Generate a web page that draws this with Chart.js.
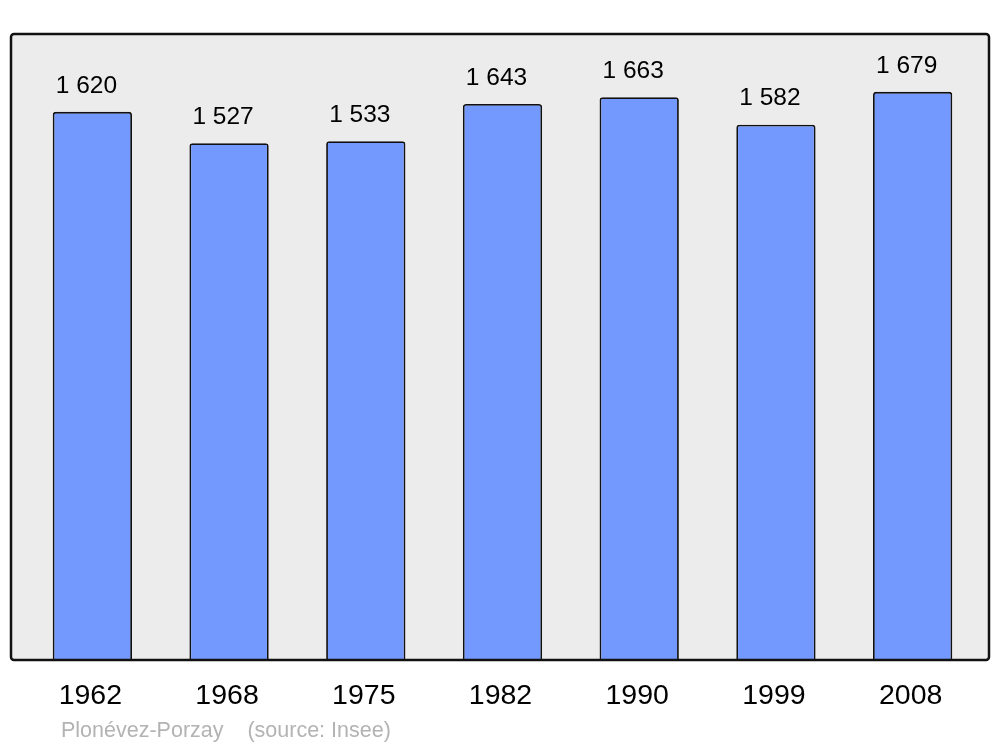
<!DOCTYPE html>
<html>
<head>
<meta charset="utf-8">
<script src="https://cdn.jsdelivr.net/npm/chart.js@4/dist/chart.umd.min.js"></script>
<style>
  html, body { margin: 0; padding: 0; background: #fff; }
  #wrap { width: 1000px; height: 747px; position: relative; }
</style>
</head>
<body>
<div id="wrap"><canvas id="popChart" width="1000" height="747"></canvas></div>
<script>
// Données : population de Plonévez-Porzay (Insee)
const years = ['1962', '1968', '1975', '1982', '1990', '1999', '2008'];
const population = [1620, 1527, 1533, 1643, 1663, 1582, 1679];
const yMax = 1850;
const footerText = 'Plonévez-Porzay    (source: Insee)';

const FONT = '"Liberation Sans", Arial, sans-serif';

// Fond gris et cadre noir autour de la zone du graphique
const framePlugin = {
    id: 'frame',
    beforeDatasetsDraw(chart) {
        const { ctx, chartArea } = chart;
        const x = chartArea.left - 13, y = chartArea.top;
        const w = chartArea.right + 8 - x, h = chartArea.bottom - y;
        ctx.save();
        ctx.beginPath();
        ctx.roundRect(x, y, w, h, 3);
        ctx.fillStyle = '#ececec';
        ctx.fill();
        ctx.restore();
    },
    afterDatasetsDraw(chart) {
        const { ctx, chartArea } = chart;
        const x = chartArea.left - 13, y = chartArea.top;
        const w = chartArea.right + 8 - x, h = chartArea.bottom - y;
        ctx.save();
        ctx.beginPath();
        ctx.roundRect(x, y, w, h, 3);
        ctx.lineWidth = 2.5;
        ctx.strokeStyle = '#111';
        ctx.stroke();
        ctx.restore();
    }
};

// Étiquettes : valeurs au-dessus des barres, années dessous, source en bas
const labelsPlugin = {
    id: 'labels',
    afterDraw(chart) {
        const { ctx, chartArea } = chart;
        const meta = chart.getDatasetMeta(0);
        const xScale = chart.scales.x;
        ctx.save();
        ctx.fillStyle = '#000';
        ctx.textAlign = 'center';
        ctx.textBaseline = 'middle';
        ctx.font = '24.5px ' + FONT;
        meta.data.forEach((bar, i) => {
            const v = population[i].toLocaleString('fr-FR').replace(/\s/g, ' ');
            ctx.fillText(v, bar.x - 6, bar.y - 26);
        });
        ctx.font = '28.5px ' + FONT;
        years.forEach((yr, i) => {
            ctx.fillText(yr, xScale.getPixelForValue(i) - 2, chartArea.bottom + 36);
        });
        ctx.textAlign = 'left';
        ctx.font = '21.5px ' + FONT;
        ctx.fillStyle = '#b3b3b3';
        ctx.fillText(footerText, 61, chartArea.bottom + 71);
        ctx.restore();
    }
};

new Chart(document.getElementById('popChart').getContext('2d'), {
    type: 'bar',
    data: {
        labels: years,
        datasets: [{
            data: population,
            backgroundColor: '#7399ff',
            borderColor: '#111',
            borderWidth: 1.8,
            borderRadius: 3,
            borderSkipped: 'bottom',
            barPercentage: 0.58,
            categoryPercentage: 1
        }]
    },
    options: {
        responsive: false,
        animation: false,
        devicePixelRatio: 1,
        layout: { padding: { top: 34, bottom: 87, left: 24, right: 19 } },
        plugins: {
            legend: { display: false },
            tooltip: { enabled: false }
        },
        scales: {
            x: { display: false },
            y: { display: false, min: 0, max: yMax }
        }
    },
    plugins: [framePlugin, labelsPlugin]
});
</script>
</body>
</html>
